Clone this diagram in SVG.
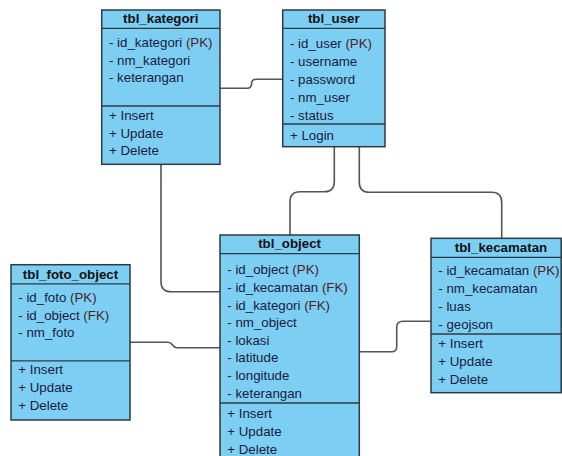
<svg xmlns="http://www.w3.org/2000/svg" width="562" height="456" viewBox="0 0 562 456">
<style>
.box{fill:#7ccff3;stroke:#2e3a42;stroke-width:1.5}
.sep{stroke:#2e3a42;stroke-width:1.3}
.hd{font-family:"Liberation Sans",Arial,sans-serif;font-size:13.3px;font-weight:bold;fill:#111;text-anchor:middle}
.tx{font-family:"Liberation Sans",Arial,sans-serif;font-size:13.3px;fill:#1a1a3c}
.k{fill:#4a2228}
.con{fill:none;stroke:#555;stroke-width:1.6}
</style>
<rect width="562" height="456" fill="#ffffff"/>
<g id="connectors">
<path class="con" d="M220,88.3 H247 Q251.5,88.3 251.5,84 Q251.5,79.3 256,79.3 H282.7"/>
<path class="con" d="M161,164.3 V281.7 Q161,291.7 171,291.7 H220"/>
<path class="con" d="M130,342.3 H168 C173,342.3 172,347.7 177,347.7 H220"/>
<path class="con" d="M334.3,146.7 V181.7 Q334.3,191.7 324.3,191.7 H300 Q290,191.7 290,201.7 V235"/>
<path class="con" d="M359.3,146.7 V182.3 Q359.3,192.3 369.3,192.3 H491.7 Q501.7,192.3 501.7,202.3 V238.3"/>
<path class="con" d="M359.3,351.7 H391.7 Q396.7,351.7 396.7,346.7 V327 Q396.7,321.3 403,321.3 H431"/>
</g>
<g id="tbl_kategori">
<rect class="box" x="101.7" y="10" width="118.3" height="154.3"/>
<line class="sep" x1="101.7" y1="28.3" x2="220" y2="28.3"/>
<line class="sep" x1="101.7" y1="106" x2="220" y2="106"/>
<text class="hd" x="160.8" y="23">tbl_kategori</text>
<text class="tx" x="109" y="47.2">- id_kategori <tspan class="k">(PK)</tspan></text>
<text class="tx" x="109" y="64.6">- nm_kategori</text>
<text class="tx" x="109" y="82">- keterangan</text>
<text class="tx" x="109" y="120.3">+ Insert</text>
<text class="tx" x="109" y="137.9">+ Update</text>
<text class="tx" x="109" y="155.3">+ Delete</text>
</g>
<g id="tbl_user">
<rect class="box" x="282.7" y="10" width="102.3" height="136.7"/>
<line class="sep" x1="282.7" y1="28.3" x2="385" y2="28.3"/>
<line class="sep" x1="282.7" y1="124" x2="385" y2="124"/>
<text class="hd" x="333.8" y="23">tbl_user</text>
<text class="tx" x="290" y="48">- id_user <tspan class="k">(PK)</tspan></text>
<text class="tx" x="290" y="66.4">- username</text>
<text class="tx" x="290" y="84">- password</text>
<text class="tx" x="290" y="102">- nm_user</text>
<text class="tx" x="290" y="119.7">- status</text>
<text class="tx" x="290" y="139.7">+ Login</text>
</g>
<g id="tbl_foto_object">
<rect class="box" x="11" y="264.7" width="119" height="155.3"/>
<line class="sep" x1="11" y1="283.8" x2="130" y2="283.8"/>
<line class="sep" x1="11" y1="360.8" x2="130" y2="360.8"/>
<text class="hd" x="70.5" y="278.7">tbl_foto_object</text>
<text class="tx" x="18.3" y="302.4">- id_foto <tspan class="k">(PK)</tspan></text>
<text class="tx" x="18.3" y="319.7">- id_object <tspan class="k">(FK)</tspan></text>
<text class="tx" x="18.3" y="337">- nm_foto</text>
<text class="tx" x="18.3" y="374">+ Insert</text>
<text class="tx" x="18.3" y="391.7">+ Update</text>
<text class="tx" x="18.3" y="409.7">+ Delete</text>
</g>
<g id="tbl_object">
<rect class="box" x="220" y="235" width="139.3" height="232"/>
<line class="sep" x1="220" y1="253.7" x2="359.3" y2="253.7"/>
<line class="sep" x1="220" y1="403" x2="359.3" y2="403"/>
<text class="hd" x="289.6" y="248">tbl_object</text>
<text class="tx" x="227.3" y="274">- id_object <tspan class="k">(PK)</tspan></text>
<text class="tx" x="227.3" y="292">- id_kecamatan <tspan class="k">(FK)</tspan></text>
<text class="tx" x="227.3" y="309.7">- id_kategori <tspan class="k">(FK)</tspan></text>
<text class="tx" x="227.3" y="327.4">- nm_object</text>
<text class="tx" x="227.3" y="344.7">- lokasi</text>
<text class="tx" x="227.3" y="362.4">- latitude</text>
<text class="tx" x="227.3" y="380.4">- longitude</text>
<text class="tx" x="227.3" y="398">- keterangan</text>
<text class="tx" x="227.3" y="418">+ Insert</text>
<text class="tx" x="227.3" y="435.7">+ Update</text>
<text class="tx" x="227.3" y="453.7">+ Delete</text>
</g>
<g id="tbl_kecamatan">
<rect class="box" x="431" y="238.3" width="130.2" height="154.4"/>
<line class="sep" x1="431" y1="257.3" x2="561.2" y2="257.3"/>
<line class="sep" x1="431" y1="334" x2="561.2" y2="334"/>
<text class="hd" x="501" y="252">tbl_kecamatan</text>
<text class="tx" x="438.3" y="274.7">- id_kecamatan <tspan class="k">(PK)</tspan></text>
<text class="tx" x="438.3" y="293">- nm_kecamatan</text>
<text class="tx" x="438.3" y="310.7">- luas</text>
<text class="tx" x="438.3" y="328.7">- geojson</text>
<text class="tx" x="438.3" y="348">+ Insert</text>
<text class="tx" x="438.3" y="366.4">+ Update</text>
<text class="tx" x="438.3" y="384">+ Delete</text>
</g>
</svg>
